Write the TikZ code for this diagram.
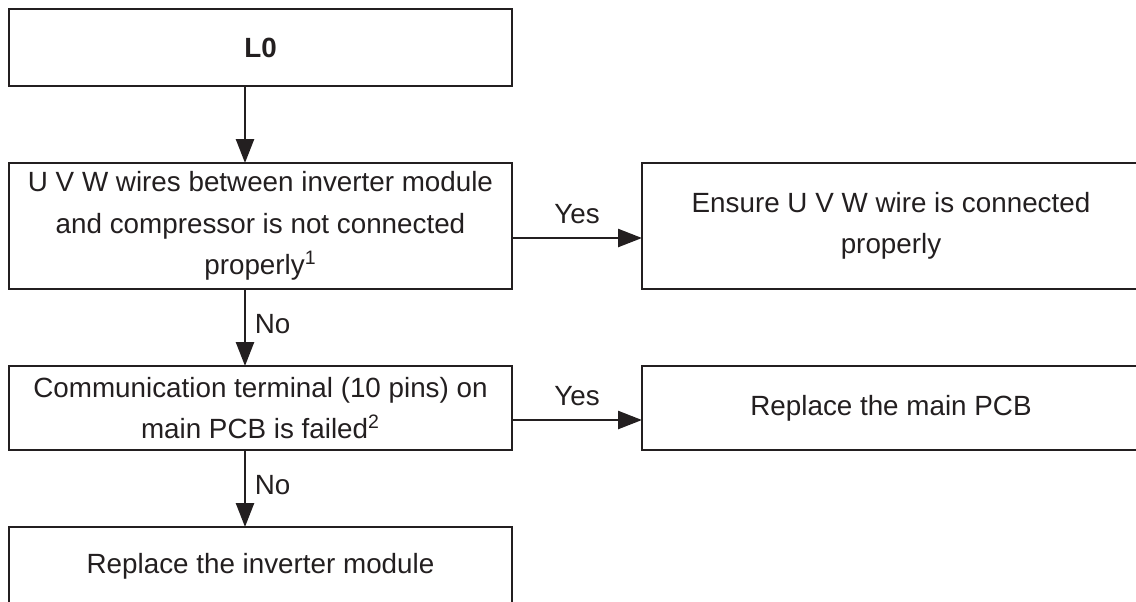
\documentclass[tikz,border=0pt]{standalone}
\usepackage{fontspec}
\setmainfont{Liberation Sans}
\usetikzlibrary{positioning,arrows.meta}
\definecolor{FCLine}{HTML}{231F20}

\begin{document}
\begin{tikzpicture}[
  x=0.5pt, y=-0.5pt,
  node distance=38.5pt,
  box/.style={draw=FCLine, text=FCLine, line width=1.3pt, fill=white, outer sep=0pt, inner sep=3pt, align=center, minimum width=251.5pt, font=\fontsize{13.9pt}{20.8pt}\selectfont},
  sidebox/.style={box, minimum width=249pt},
  arrow/.style={-{Triangle[length=12pt,width=9pt]}, line width=1.25pt, draw=FCLine},
  lbl/.style={font=\fontsize{13.9pt}{16pt}\selectfont, text=FCLine}
]
\useasboundingbox (0,0) rectangle (1136,601);
\node[box, minimum height=38.5pt, font=\fontsize{13.9pt}{20.8pt}\selectfont\bfseries] (l0) at (260.5,47.5) {L0};
\node[box, minimum height=63pt, below=of l0] (uvw) {U V W wires between inverter module\\and compressor is not connected\\properly\textsuperscript{1}};
\node[box, minimum height=42pt, below=of uvw] (pcb) {Communication terminal (10 pins) on\\main PCB is failed\textsuperscript{2}};
\node[box, minimum height=39.5pt, below=of pcb] (inv) {Replace the inverter module};
\node[sidebox, minimum height=63pt, right=65pt of uvw] (ensure) {Ensure U V W wire is connected\\properly};
\node[sidebox, minimum height=42pt, right=65pt of pcb] (mainpcb) {Replace the main PCB};

\draw[arrow] ([xshift=-7.75pt]l0.south) -- ([xshift=-7.75pt]uvw.north);
\draw[arrow] ([xshift=-7.75pt]uvw.south) -- node[lbl, right=1pt, pos=0.45] {No} ([xshift=-7.75pt]pcb.north);
\draw[arrow] ([xshift=-7.75pt]pcb.south) -- node[lbl, right=1pt, pos=0.45] {No} ([xshift=-7.75pt]inv.north);
\draw[arrow] ([yshift=-6pt]uvw.east) -- node[lbl, above=3pt] {Yes} ([yshift=-6pt]ensure.west);
\draw[arrow] ([yshift=-6pt]pcb.east) -- node[lbl, above=3pt] {Yes} ([yshift=-6pt]mainpcb.west);
\end{tikzpicture}
\end{document}
